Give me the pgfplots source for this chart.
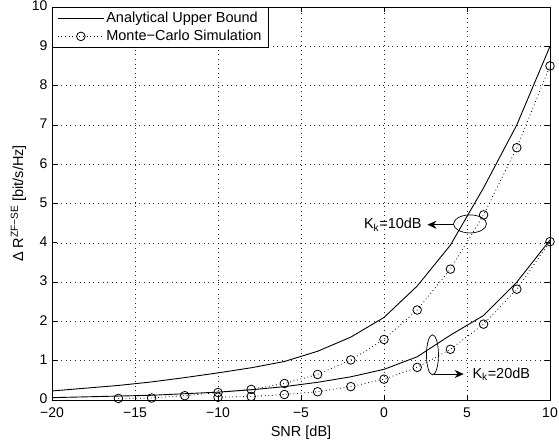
\documentclass[border=0pt]{standalone}
\usepackage{pgfplots}
\pgfplotsset{compat=1.18}
\usepackage{fontspec}
\setmainfont{Liberation Sans}
\usetikzlibrary{arrows.meta}
\begin{document}
\begin{tikzpicture}
\useasboundingbox (-52pt,-43pt) rectangle (507pt,400pt);
\begin{axis}[
  at={(0pt,0pt)}, anchor=south west,
  scale only axis, width=498pt, height=393pt,
  xmin=-20, xmax=10, ymin=0, ymax=10,
  xtick={-20,-15,-10,-5,0,5,10},
  xticklabels={−20,−15,−10,−5,0,5,10},
  ytick={0,1,2,3,4,5,6,7,8,9,10},
  yticklabels={0,1,2,3,4,5,6,7,8,9,10},
  tick align=inside, major tick length=5pt,
  grid=major,
  major grid style={black!85, line width=0.45pt, dash pattern=on 0.6pt off 4pt},
  axis line style={black, line width=0.8pt},
  tick style={black, line width=0.6pt},
  ticklabel style={font=\fontsize{14}{16}\selectfont},
  xticklabel style={yshift=-4.5pt},
  yticklabel style={xshift=-1pt, yshift=1pt},
  xlabel={SNR [dB]},
  ylabel={Δ R\textsuperscript{ZF−SE} [bit/s/Hz]},
  label style={font=\fontsize{14.5}{16}\selectfont},
  xlabel style={yshift=-1pt},
  ylabel style={yshift=-1pt},
  legend style={at={(0,1)}, anchor=north west, draw=black, line width=0.8pt,
    font=\fontsize{14.5}{17}\selectfont, inner xsep=5pt, inner ysep=3pt,
    row sep=2pt, cells={anchor=west}},
  legend image code/.code={\draw[mark repeat=2,mark phase=2,#1] plot coordinates {(0pt,0pt) (23pt,0pt) (46pt,0pt)};},
]
% Analytical upper bound, K_k = 10 dB
\addplot[black, line width=0.9pt] coordinates {
(-20,0.23) (-18,0.30) (-16,0.37) (-14,0.46) (-12,0.57) (-10,0.69) (-8,0.82) (-6,0.98)
(-4,1.24) (-2,1.60) (0,2.10) (2,2.90) (4,3.94) (6,5.40) (8,7.00) (10,9.00)};
\addlegendentry{Analytical Upper Bound}
% Monte-Carlo, K_k = 10 dB
\addplot[black, line width=0.8pt, dash pattern=on 0.8pt off 2.8pt, mark=o, mark size=4.3pt,
  mark options={solid, line width=0.8pt}] coordinates {
(-16,0.04) (-14,0.05) (-12,0.11) (-10,0.19) (-8,0.27) (-6,0.42) (-4,0.65) (-2,1.02)
(0,1.54) (2,2.29) (4,3.33) (6,4.71) (8,6.42) (10,8.50)};
\addlegendentry{Monte−Carlo Simulation}
% Analytical upper bound, K_k = 20 dB
\addplot[black, line width=0.9pt, forget plot] coordinates {
(-20,0.06) (-18,0.08) (-16,0.10) (-14,0.12) (-12,0.16) (-10,0.20) (-8,0.26) (-6,0.34)
(-4,0.45) (-2,0.59) (0,0.78) (2,1.10) (4,1.65) (6,2.15) (8,3.00) (10,4.07)};
% Monte-Carlo, K_k = 20 dB
\addplot[black, line width=0.8pt, dash pattern=on 0.8pt off 2.8pt, mark=o, mark size=4.3pt,
  mark options={solid, line width=0.8pt}, forget plot] coordinates {
(-10,0.07) (-8,0.09) (-6,0.14) (-4,0.21) (-2,0.34) (0,0.53) (2,0.83) (4,1.29)
(6,1.93) (8,2.82) (10,4.03)};
% annotations
\draw[line width=0.7pt] (axis cs:5.18,4.48) ellipse [x radius=16.5pt, y radius=9pt];
\draw[line width=0.7pt, -{Stealth[length=9pt, width=8pt, inset=3pt]}] (axis cs:4.19,4.46) -- (axis cs:2.62,4.46);
\node[anchor=east, inner sep=0pt, font=\fontsize{14.5}{16}\selectfont] at (axis cs:2.28,4.46) {K\textsubscript{k}=10dB};
\draw[line width=0.7pt] (axis cs:2.92,1.15) ellipse [x radius=6pt, y radius=20pt];
\draw[line width=0.7pt, -{Stealth[length=9pt, width=8pt, inset=3pt]}] (axis cs:3.0,0.66) -- (axis cs:4.8,0.66);
\node[anchor=west, inner sep=0pt, font=\fontsize{14.5}{16}\selectfont] at (axis cs:5.32,0.66) {K\textsubscript{k}=20dB};
\end{axis}
\end{tikzpicture}
\end{document}
